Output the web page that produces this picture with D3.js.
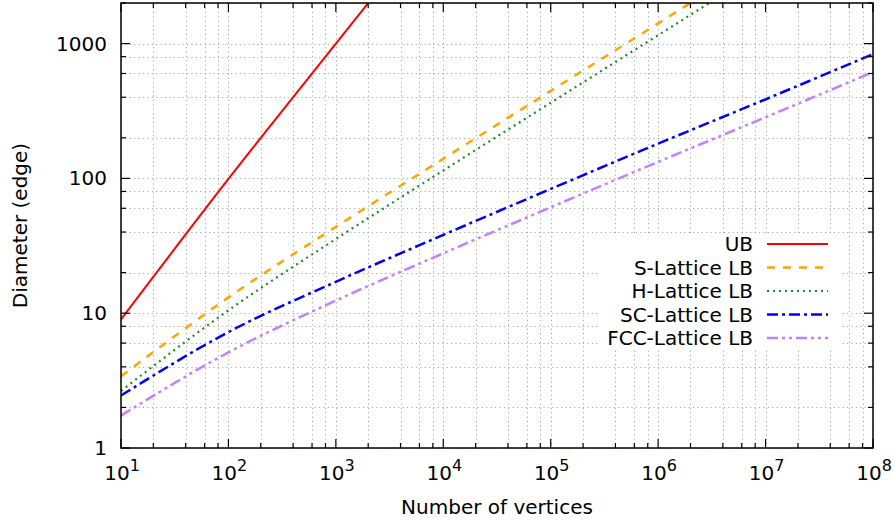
<!DOCTYPE html>
<html>
<head>
<meta charset="utf-8">
<script src="https://cdn.jsdelivr.net/npm/d3@7/dist/d3.min.js"></script>
<style>
  html, body { margin: 0; padding: 0; background: #fff; }
  text { font-family: "DejaVu Sans", sans-serif; fill: #000; }
</style>
</head>
<body>
<svg id="chart" width="894" height="520"></svg>
<script>
// ---- data ----
const vertices   = [10, 100, 1e3, 1e4, 1e5, 1e6, 1e7, 1e8];
const ubValues   = [9, 99, 999, 9999, 99999, 999999, 9999999, 99999999];
const sLattice   = [3.4, 13.1, 43.7, 140, 446, 1413, 4470, 14140];
const hLattice   = [2.65, 10.5, 35.5, 114.5, 364, 1154, 3650, 11546];
const scLattice  = [2.45, 7.24, 17.1, 38.1, 83.5, 181, 386, 836];
const fccLattice = [1.74, 5.12, 12.4, 27.8, 61, 132.7, 284, 614];

const seriesNames = ["UB", "S-Lattice LB", "H-Lattice LB", "SC-Lattice LB", "FCC-Lattice LB"];
const xMajorTicks = [1e1, 1e2, 1e3, 1e4, 1e5, 1e6, 1e7, 1e8];
const xTickExponents = ["1", "2", "3", "4", "5", "6", "7", "8"];
const yMajorTicks = [1, 10, 100, 1000];
const yTickLabels = ["1", "10", "100", "1000"];
const minorMultipliers = [2, 4, 6, 8];

// ---- layout / style ----
const W = 894, H = 520;
const L = 121, R = 873, T = 3, B = 448;
const styles = [
  { color: "#ff0000", dash: null, width: 2 },
  { color: "#ffa500", dash: "8,8", width: 2.5 },
  { color: "#1f8a1f", dash: "2,4", width: 2.2 },
  { color: "#0000ff", dash: "11,4,3,4", width: 2.5 },
  { color: "#c080ff", dash: "11,4,3,4,3,4", width: 2.5 }
];

const svg = d3.select("#chart");
const x = d3.scaleLog().domain([10, 1e8]).range([L, R]);
const y = d3.scaleLog().domain([1, 2000]).range([B, T]);

const xMinor = [];
for (let k = 0; k < xMajorTicks.length - 1; k++)
  minorMultipliers.forEach(m => xMinor.push(xMajorTicks[k] * m));
const yMinor = [];
for (let k = 0; k < yMajorTicks.length; k++)
  minorMultipliers.forEach(m => { const v = yMajorTicks[k] * m; if (v <= 2000) yMinor.push(v); });

// grid
const grid = svg.append("g").attr("stroke", "#a8a8a8").attr("stroke-width", 1)
  .attr("stroke-dasharray", "1.2,3.2").attr("fill", "none");
xMajorTicks.concat(xMinor).forEach(v => {
  const px = Math.round(x(v)) + 0.5;
  grid.append("line").attr("x1", px).attr("x2", px).attr("y1", T).attr("y2", B);
});
yMajorTicks.concat(yMinor).forEach(v => {
  const py = Math.round(y(v)) + 0.5;
  grid.append("line").attr("x1", L).attr("x2", R).attr("y1", py).attr("y2", py);
});

// opaque key background
svg.append("rect").attr("x", 598).attr("y", 234).attr("width", 242).attr("height", 116)
  .attr("fill", "#fff");

// lines
svg.append("clipPath").attr("id", "plotclip").append("rect")
  .attr("x", L).attr("y", T).attr("width", R - L).attr("height", B - T);
const allSeries = [ubValues, sLattice, hLattice, scLattice, fccLattice];
const line = d3.line().x(d => x(d[0])).y(d => y(d[1])).curve(d3.curveMonotoneX);
const lines = svg.append("g").attr("clip-path", "url(#plotclip)");
allSeries.forEach((vals, i) => {
  const pts = vertices.map((v, j) => [v, vals[j]]);
  lines.append("path").attr("d", line(pts)).attr("fill", "none")
    .attr("stroke", styles[i].color).attr("stroke-width", styles[i].width)
    .attr("stroke-dasharray", styles[i].dash);
});

// border + ticks
const axisG = svg.append("g").attr("stroke", "#000").attr("fill", "none");
axisG.append("rect").attr("x", L).attr("y", T).attr("width", R - L).attr("height", B - T)
  .attr("stroke-width", 1.5);
const majLen = 9, minLen = 5;
function xTick(v, len) {
  const px = x(v);
  axisG.append("line").attr("x1", px).attr("x2", px).attr("y1", B).attr("y2", B - len).attr("stroke-width", 1.2);
  axisG.append("line").attr("x1", px).attr("x2", px).attr("y1", T).attr("y2", T + len).attr("stroke-width", 1.2);
}
function yTick(v, len) {
  const py = y(v);
  axisG.append("line").attr("x1", L).attr("x2", L + len).attr("y1", py).attr("y2", py).attr("stroke-width", 1.2);
  axisG.append("line").attr("x1", R).attr("x2", R - len).attr("y1", py).attr("y2", py).attr("stroke-width", 1.2);
}
xMajorTicks.forEach(v => xTick(v, majLen));
xMinor.forEach(v => xTick(v, minLen));
yMajorTicks.forEach(v => yTick(v, majLen));
yMinor.forEach(v => yTick(v, minLen));

// tick labels
xMajorTicks.forEach((v, i) => {
  const t = svg.append("text").attr("x", x(v) + 1).attr("y", 480)
    .attr("text-anchor", "middle").attr("font-size", 20);
  t.append("tspan").text("10");
  t.append("tspan").attr("font-size", 16).attr("dy", -9).text(xTickExponents[i]);
});
yMajorTicks.forEach((v, i) => {
  svg.append("text").attr("x", 107).attr("y", y(v) + 7).attr("text-anchor", "end")
    .attr("font-size", 20).text(yTickLabels[i]);
});

// axis titles
svg.append("text").attr("x", (L + R) / 2).attr("y", 514).attr("text-anchor", "middle")
  .attr("font-size", 20).text("Number of vertices");
svg.append("text").attr("transform", `translate(27,${(T + B) / 2}) rotate(-90)`)
  .attr("text-anchor", "middle").attr("font-size", 20).text("Diameter (edge)");

// legend
const rowY = [244, 267.5, 291, 314.5, 338];
seriesNames.forEach((name, i) => {
  svg.append("text").attr("x", 753).attr("y", rowY[i] + 7).attr("text-anchor", "end")
    .attr("font-size", 20).text(name);
  svg.append("line").attr("x1", 767).attr("x2", 828).attr("y1", rowY[i]).attr("y2", rowY[i])
    .attr("stroke", styles[i].color).attr("stroke-width", styles[i].width)
    .attr("stroke-dasharray", styles[i].dash);
});
</script>
</body>
</html>
